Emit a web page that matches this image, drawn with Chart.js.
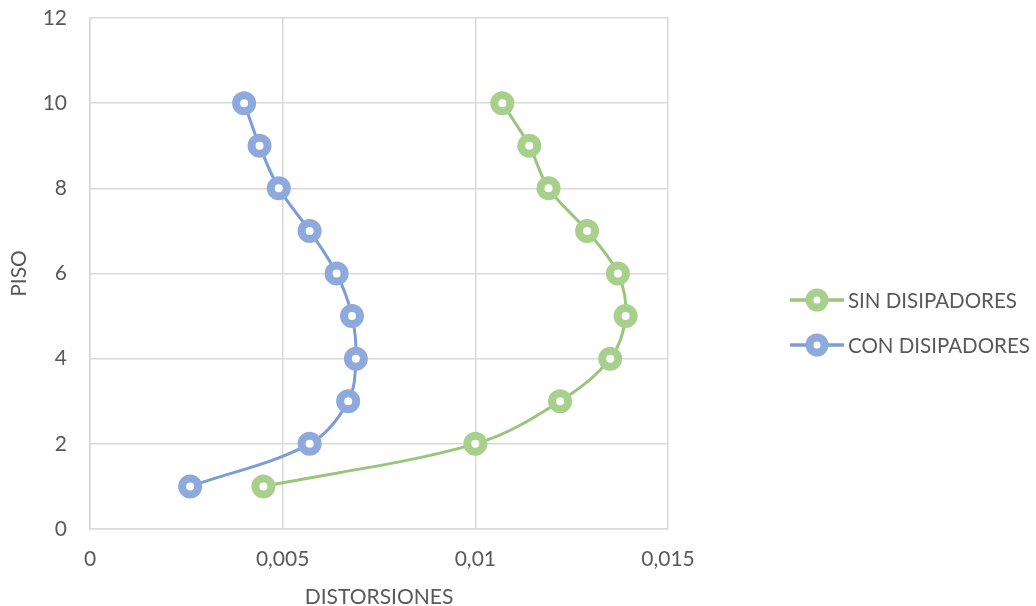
<!DOCTYPE html>
<html>
<head>
<meta charset="utf-8">
<script src="https://cdn.jsdelivr.net/npm/chart.js@4.4.1/dist/chart.umd.min.js"></script>
<style>
  html, body { margin: 0; padding: 0; background: #fff; }
  #wrap { width: 1036px; height: 606px; position: relative; }
</style>
</head>
<body>
<div id="wrap"><canvas id="chart"></canvas></div>
<script>
// Data
const pisos = [1, 2, 3, 4, 5, 6, 7, 8, 9, 10];
const sinDisipadores = [0.0045, 0.0100, 0.0122, 0.0135, 0.0139, 0.0137, 0.0129, 0.0119, 0.0114, 0.0107];
const conDisipadores = [0.0026, 0.0057, 0.0067, 0.0069, 0.0068, 0.0064, 0.0057, 0.0049, 0.0044, 0.0040];
const seriesNames = ['SIN DISIPADORES', 'CON DISIPADORES'];
const xTicks = [0, 0.005, 0.01, 0.015];

const greenLine = '#98c67a';
const greenMark = '#a8d08d';
const blueLine = '#7b9cd8';
const blueMark = '#8eaadc';
const textColor = '#595959';
const gridColor = '#d9d9d9';
const fontFamily = 'Lato, Calibri, Carlito, sans-serif';

function toPoints(xs) {
    return pisos.map((p, i) => ({ x: xs[i], y: p }));
}

// Legend drawn by hand so each entry shows line + marker like the original
const sideLegend = {
    id: 'sideLegend',
    afterDraw(chart) {
        const ctx = chart.ctx;
        const items = [
            { text: seriesNames[0], line: greenLine, mark: greenMark, y: 300 },
            { text: seriesNames[1], line: blueLine, mark: blueMark, y: 345 }
        ];
        ctx.save();
        items.forEach(it => {
            ctx.strokeStyle = it.line;
            ctx.lineWidth = 3.5;
            ctx.beginPath();
            ctx.moveTo(790, it.y);
            ctx.lineTo(844, it.y);
            ctx.stroke();
            ctx.beginPath();
            ctx.arc(817, it.y, 7.5, 0, Math.PI * 2);
            ctx.fillStyle = '#fff';
            ctx.fill();
            ctx.lineWidth = 8;
            ctx.strokeStyle = it.mark;
            ctx.stroke();
            ctx.fillStyle = textColor;
            ctx.font = '20.5px ' + fontFamily;
            ctx.textAlign = 'left';
            ctx.textBaseline = 'middle';
            ctx.fillText(it.text, 848, it.y + 1);
        });
        ctx.restore();
    }
};

new Chart(document.getElementById('chart').getContext('2d'), {
    type: 'scatter',
    data: {
        datasets: [{
            label: seriesNames[0],
            data: toPoints(sinDisipadores),
            showLine: true,
            borderColor: greenLine,
            borderWidth: 3,
            tension: 0.35,
            pointRadius: 8,
            pointBorderWidth: 8,
            pointBorderColor: greenMark,
            pointBackgroundColor: '#fff',
            pointHoverRadius: 8
        }, {
            label: seriesNames[1],
            data: toPoints(conDisipadores),
            showLine: true,
            borderColor: blueLine,
            borderWidth: 3,
            tension: 0.35,
            pointRadius: 8,
            pointBorderWidth: 8,
            pointBorderColor: blueMark,
            pointBackgroundColor: '#fff',
            pointHoverRadius: 8
        }]
    },
    options: {
        responsive: true,
        maintainAspectRatio: false,
        animation: false,
        events: [],
        layout: { padding: { top: 18, right: 368, bottom: 0, left: 0 } },
        plugins: {
            legend: { display: false },
            tooltip: { enabled: false }
        },
        scales: {
            x: {
                type: 'linear',
                min: 0,
                max: 0.015,
                afterFit: (scale) => { scale.height = 77; scale.paddingRight = 0; },
                afterBuildTicks: (scale) => { scale.ticks = xTicks.map(v => ({ value: v })); },
                grid: { color: gridColor, lineWidth: 1.5, drawTicks: false },
                border: { color: gridColor, width: 1.5 },
                ticks: {
                    color: textColor,
                    font: { family: fontFamily, size: 21 },
                    padding: 18,
                    maxRotation: 0,
                    callback: (v) => String(v).replace('.', ',')
                },
                title: {
                    display: true,
                    text: 'DISTORSIONES',
                    color: textColor,
                    font: { family: fontFamily, size: 21 },
                    padding: { top: 0, bottom: -4 }
                }
            },
            y: {
                type: 'linear',
                min: 0,
                max: 12,
                afterFit: (scale) => { scale.width = 90; scale.paddingTop = 0; scale.paddingBottom = 0; },
                grid: { color: gridColor, lineWidth: 1.5, drawTicks: false },
                border: { color: gridColor, width: 1.5 },
                ticks: {
                    stepSize: 2,
                    color: textColor,
                    font: { family: fontFamily, size: 21 },
                    padding: 23
                },
                title: {
                    display: true,
                    text: 'PISO',
                    color: textColor,
                    font: { family: fontFamily, size: 21 },
                    padding: { top: 7, bottom: 0 }
                }
            }
        }
    },
    plugins: [sideLegend]
});
</script>
</body>
</html>
